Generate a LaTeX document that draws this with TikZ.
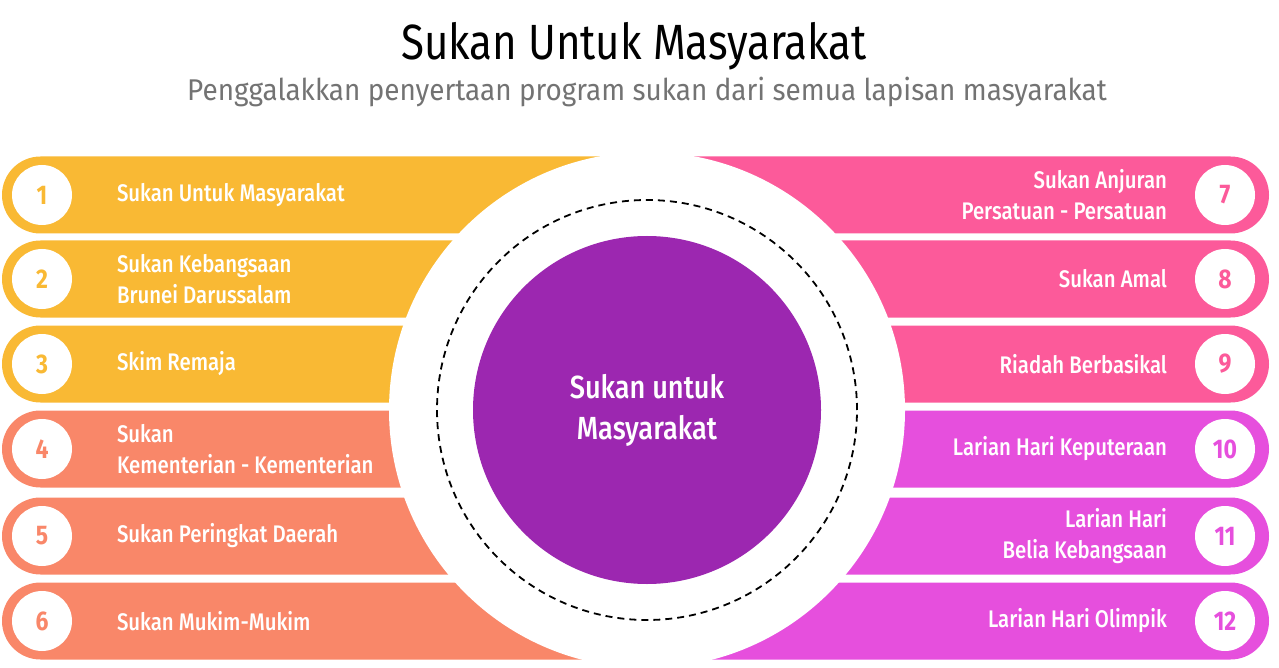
\documentclass[tikz,border=0pt]{standalone}
\usepackage{fontspec}
\setmainfont{Fira Sans}
\newfontfamily\medfont{Fira Sans Medium}[FakeStretch=0.85]
\newfontfamily\regfont{Fira Sans}[FakeStretch=0.85]
\newfontfamily\subfont{Fira Sans}[FakeStretch=0.93]
\newfontfamily\numfont{Fira Sans Bold}[FakeStretch=0.85]
\usepackage{xcolor}
\usetikzlibrary{shapes.misc, positioning}

\definecolor{barkuning}{HTML}{F9B934}
\definecolor{baroren}{HTML}{F98769}
\definecolor{barpink}{HTML}{FC5A9A}
\definecolor{barmagenta}{HTML}{E64FDD}
\definecolor{pusatungu}{HTML}{9C27B0}
\definecolor{tajukkelabu}{HTML}{737373}

\begin{document}
\begin{tikzpicture}[
    x=1pt, y=-1pt,
    barL/.style={rounded rectangle, rounded rectangle right arc=none, minimum width=648pt, minimum height=77pt, inner sep=0pt},
    barR/.style={rounded rectangle, rounded rectangle left arc=none, minimum width=624pt, minimum height=77pt, inner sep=0pt},
    num/.style={circle, fill=white, minimum size=60pt, inner sep=0pt, font=\numfont\fontsize{27}{27}\selectfont},
    lblL/.style={text=white, align=left, inner sep=0pt, font=\medfont\fontsize{24}{31}\selectfont},
    lblR/.style={text=white, align=right, inner sep=0pt, font=\medfont\fontsize{24}{31}\selectfont},
    ring/.style={circle, fill=white, minimum size=516pt, inner sep=0pt},
    dashring/.style={circle, draw=black, line width=1.8pt, dash pattern=on 7pt off 5pt, minimum size=420pt, inner sep=0pt},
    core/.style={circle, fill=pusatungu, minimum size=348pt, inner sep=0pt, text=white, align=center, font=\medfont\fontsize{32}{41}\selectfont}
]
\useasboundingbox (0,0) rectangle (1279,668);

% tajuk
\node[font=\regfont\fontsize{49.5}{49.5}\selectfont] (tajuk) at (634,46) {Sukan Untuk Masyarakat};
\node[font=\subfont\fontsize{30}{30}\selectfont, text=tajukkelabu] (subtajuk) at (647,92) {Penggalakkan penyertaan program sukan dari semua lapisan masyarakat};

% jalur kiri
\node[barL, fill=barkuning] (bar1) at (326,195) {};
\node[barL, fill=barkuning] (bar2) at (326,279) {};
\node[barL, fill=barkuning] (bar3) at (326,364) {};
\node[barL, fill=baroren] (bar4) at (326,449) {};
\node[barL, fill=baroren] (bar5) at (326,536) {};
\node[barL, fill=baroren] (bar6) at (326,621) {};

% jalur kanan
\node[barR, fill=barpink] (bar7) at (957,195) {};
\node[barR, fill=barpink] (bar8) at (957,279) {};
\node[barR, fill=barpink] (bar9) at (957,364) {};
\node[barR, fill=barmagenta] (bar10) at (957,449) {};
\node[barR, fill=barmagenta] (bar11) at (957,536) {};
\node[barR, fill=barmagenta] (bar12) at (957,621) {};

% bulatan tengah
\node[ring] (cincin) at (647,410) {};
\node[dashring] (garis) at (647,410) {};
\node[core] (pusat) at (647,410) {Sukan untuk\\Masyarakat};

% nombor
\node[num, text=barkuning, right=10pt of bar1.west] (no1) {1};
\node[num, text=barkuning, right=10pt of bar2.west] (no2) {2};
\node[num, text=barkuning, right=10pt of bar3.west] (no3) {3};
\node[num, text=baroren, right=10pt of bar4.west] (no4) {4};
\node[num, text=baroren, right=10pt of bar5.west] (no5) {5};
\node[num, text=baroren, right=10pt of bar6.west] (no6) {6};
\node[num, text=barpink, left=14pt of bar7.east] (no7) {7};
\node[num, text=barpink, left=14pt of bar8.east] (no8) {8};
\node[num, text=barpink, left=14pt of bar9.east] (no9) {9};
\node[num, text=barmagenta, left=14pt of bar10.east] (no10) {10};
\node[num, text=barmagenta, left=14pt of bar11.east] (no11) {11};
\node[num, text=barmagenta, left=14pt of bar12.east] (no12) {12};

% label
\node[lblL, right=115pt of bar1.west] (teks1) {Sukan Untuk Masyarakat};
\node[lblL, right=115pt of bar2.west] (teks2) {Sukan Kebangsaan\\Brunei Darussalam};
\node[lblL, right=115pt of bar3.west] (teks3) {Skim Remaja};
\node[lblL, right=115pt of bar4.west] (teks4) {Sukan\\Kementerian - Kementerian};
\node[lblL, right=115pt of bar5.west] (teks5) {Sukan Peringkat Daerah};
\node[lblL, right=115pt of bar6.west] (teks6) {Sukan Mukim-Mukim};
\node[lblR, left=102pt of bar7.east] (teks7) {Sukan Anjuran\\Persatuan - Persatuan};
\node[lblR, left=102pt of bar8.east] (teks8) {Sukan Amal};
\node[lblR, left=102pt of bar9.east] (teks9) {Riadah Berbasikal};
\node[lblR, left=102pt of bar10.east] (teks10) {Larian Hari Keputeraan};
\node[lblR, left=102pt of bar11.east] (teks11) {Larian Hari\\Belia Kebangsaan};
\node[lblR, left=102pt of bar12.east] (teks12) {Larian Hari Olimpik};

\end{tikzpicture}
\end{document}
